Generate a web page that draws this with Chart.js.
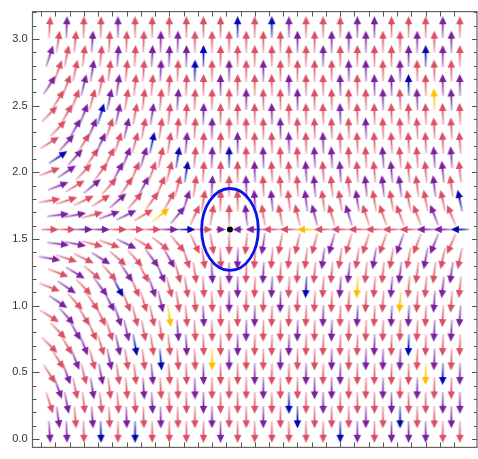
<!DOCTYPE html>
<html><head><meta charset="utf-8">
<script src="https://cdn.jsdelivr.net/npm/chart.js@4/dist/chart.umd.min.js"></script>
<style>html,body{margin:0;padding:0;background:#fff;overflow:hidden}</style>
</head><body>
<canvas id="c" width="478" height="459" style="width:478px;height:459px;display:block"></canvas>
<script>
// ---------- data ----------
const Y_ROWS = [0.054,0.162,0.271,0.379,0.487,0.596,0.704,0.812,0.921,1.029,1.138,1.246,1.354,1.463,1.571,1.679,1.787,1.896,2.004,2.112,2.221,2.329,2.437,2.546,2.654,2.762,2.871,2.979,3.087];
const X_EVEN = [0.06,0.18,0.30,0.42,0.54,0.66,0.78,0.90,1.02,1.14,1.26,1.38,1.50,1.62,1.74,1.86,1.98,2.10,2.22,2.34,2.46,2.58,2.70,2.82,2.94];
const X_ODD  = [0.12,0.24,0.36,0.48,0.60,0.72,0.84,0.96,1.08,1.20,1.32,1.44,1.56,1.68,1.80,1.92,2.04,2.16,2.28,2.40,2.52,2.64,2.76,2.88];
// arrow direction in degrees (counter-clockwise from +x), row 0 = bottom
const ANGLES = [
[-86,-88,-89,-89,-90,-90,-90,-90,-90,-90,-90,-90,-90,-90,-90,-90,-90,-90,-90,-90,-90,-90,-90,-90,-90],
[-82,-85,-86,-87,-88,-88,-89,-89,-90,-90,-90,-90,-90,-90,-90,-90,-90,-90,-90,-90,-90,-90,-90,-90],
[-72,-79,-83,-84,-86,-87,-87,-88,-89,-90,-90,-90,-90,-90,-90,-90,-90,-90,-90,-90,-90,-90,-90,-90,-90],
[-70,-78,-81,-83,-85,-86,-87,-88,-89,-90,-90,-90,-90,-90,-90,-90,-90,-91,-91,-91,-91,-91,-91,-91],
[-57,-70,-76,-79,-82,-84,-85,-86,-88,-89,-90,-90,-90,-91,-91,-91,-91,-91,-91,-91,-91,-91,-91,-91,-91],
[-58,-69,-75,-78,-81,-83,-85,-86,-88,-89,-90,-90,-91,-91,-91,-91,-91,-91,-91,-91,-92,-92,-92,-92],
[-45,-60,-69,-73,-78,-80,-82,-84,-87,-88,-90,-90,-91,-91,-91,-91,-92,-92,-92,-92,-92,-92,-92,-92,-92],
[-46,-60,-67,-72,-77,-79,-82,-85,-87,-89,-90,-91,-91,-91,-92,-92,-92,-92,-92,-92,-92,-93,-93,-93],
[-32,-48,-59,-65,-72,-75,-78,-81,-85,-87,-89,-91,-91,-92,-92,-92,-92,-92,-93,-93,-93,-93,-93,-93,-94],
[-34,-48,-56,-63,-69,-73,-77,-81,-85,-88,-90,-91,-92,-92,-93,-93,-93,-93,-93,-94,-94,-94,-94,-94],
[-21,-34,-46,-53,-62,-67,-71,-75,-81,-86,-89,-91,-92,-93,-93,-93,-94,-94,-94,-95,-95,-95,-95,-96,-96],
[-21,-31,-40,-48,-56,-62,-67,-75,-82,-87,-90,-92,-93,-94,-94,-95,-95,-96,-96,-96,-97,-97,-97,-98],
[-10,-18,-26,-32,-41,-48,-54,-61,-72,-81,-88,-92,-94,-95,-96,-97,-98,-99,-99,-100,-100,-101,-101,-102,-102],
[-7,-11,-15,-20,-26,-31,-38,-50,-65,-80,-90,-96,-99,-101,-103,-105,-106,-107,-108,-109,-110,-111,-112,-113],
[0,0,0,0,0,0,0,0,0,0,0,180,180,180,180,180,180,180,180,180,180,180,180,180,180],
[7,11,15,20,26,31,38,50,65,80,90,96,99,101,103,105,106,107,108,109,110,111,112,113],
[10,18,26,32,41,48,54,61,72,81,88,92,94,95,96,97,98,99,99,100,100,101,101,102,102],
[21,31,40,48,56,62,67,75,82,87,90,92,93,94,94,95,95,96,96,96,97,97,97,98],
[21,34,46,53,62,67,71,75,81,86,89,91,92,93,93,93,94,94,94,95,95,95,95,96,96],
[34,48,56,63,69,73,77,81,85,88,90,91,92,92,93,93,93,93,93,94,94,94,94,94],
[32,48,59,65,72,75,78,81,85,87,89,91,91,92,92,92,92,92,93,93,93,93,93,93,94],
[46,60,67,72,77,79,82,85,87,89,90,91,91,91,92,92,92,92,92,92,92,93,93,93],
[45,60,69,73,78,80,82,84,87,88,90,90,91,91,91,91,92,92,92,92,92,92,92,92,92],
[58,69,75,78,81,83,85,86,88,89,90,90,91,91,91,91,91,91,91,91,92,92,92,92],
[57,70,76,79,82,84,85,86,88,89,90,90,90,91,91,91,91,91,91,91,91,91,91,91,91],
[70,78,81,83,85,86,87,88,89,90,90,90,90,90,90,90,90,91,91,91,91,91,91,91],
[72,79,83,84,86,87,87,88,89,90,90,90,90,90,90,90,90,90,90,90,90,90,90,90,90],
[82,85,86,87,88,88,89,89,90,90,90,90,90,90,90,90,90,90,90,90,90,90,90,90],
[86,88,89,89,90,90,90,90,90,90,90,90,90,90,90,90,90,90,90,90,90,90,90,90,90]
];
// arrow colours: R red, P purple, B blue, Y yellow (row 0 = bottom)
const COLORS = [
"PPRBRBRRRRPRRRRRRBPRPPPRR",
"PRPRPRPRRPRRPRBRRRPRBRRP",
"RPRRRRPRRPRRRRBRPRRRPRRPP",
"PRPRRPRRPRRRPRRPPRRPRPRR",
"RPRPRRPRRPRRPRRPRPRRRRYBP",
"RPRPRRBRRYPRRPRRPRPPPRPR",
"RRPRPBRRPRRPRRPRRRRPRBRRR",
"RPRRPRRPRRRPRRPRPRRRRRPP",
"RPRRPRRYRPRRPRRRPRPRPPRRP",
"PRRPRRPRRRPRRPRRRRRRYRPR",
"RPRPBRPRRRRPRPRBRPYRPRRPR",
"RPRRPRPRRPPRPRRRRPRRPRRP",
"PRRPRRPPRRRPRRRRPRRPRRPRR",
"PPRRPRRRRRRRPRRRPRRRPRPR",
"RRPPRRRPBRPPPRRYRRRRRRPPB",
"PPRPPRYPRRRPRRRPRPRRRRPR",
"RRRRPRRRPRRRPPRPRRPRRRRRB",
"PRPRRPRRRPRPRRRPRRPPPRPR",
"RPRRPRRRBRRRPRRPRPRRPRRPR",
"BPRRPPRBRPBRPRRPPRRPRRPP",
"RPRPRRBRPRRPRRPRPRRRRRRRR",
"RPPRPRRRRPRRRPRRRRPRRRRR",
"RRPBPRPRRPRRRPRRRPRRRRRRR",
"RRRPRRRPRRRPRRPRRRRPRPYP",
"PRPRPRRRRRPRRRPRRPRPPBRPP",
"RRPRRRPRBRPRPRRRRPPRPRRR",
"PRRRPRPPPBRRRRRRPRRRRPBPR",
"RRPRRRPPRRRRRRPRPPPRRPRP",
"RPRRPRRRRRRBRBPRRRPPRRRPR"
];
const Y_TICKS = [0, 0.5, 1.0, 1.5, 2.0, 2.5, 3.0];
const Y_TICK_LABELS = ["0.0","0.5","1.0","1.5","2.0","2.5","3.0"];
const Y_MINOR = [0.1,0.2,0.3,0.4,0.6,0.7,0.8,0.9,1.1,1.2,1.3,1.4,1.6,1.7,1.8,1.9,2.1,2.2,2.3,2.4,2.6,2.7,2.8,2.9,3.1,3.2];
const X_TICKS = [0,0.1,0.2,0.3,0.4,0.5,0.6,0.7,0.8,0.9,1.0,1.1,1.2,1.3,1.4,1.5,1.6,1.7,1.8,1.9,2.0,2.1,2.2,2.3,2.4,2.5,2.6,2.7,2.8,2.9];
const FIXED_POINT = {x: 1.326, y: 1.571};
const ELLIPSE = {cx: 1.326, cy: 1.571, rx: 0.199, ry: 0.307};

// ---------- styles ----------
const PALETTE = {R:[218,80,100], P:[122,32,160], B:[6,6,176], Y:[255,190,0]};
function makeArrow(rgb, len){
  const W = len, H = 9, c = document.createElement('canvas');
  c.width = W; c.height = H;
  const g = c.getContext('2d');
  const head = 8, hw = 3.7, cy = H/2;
  const grad = g.createLinearGradient(0,0,W-head,0);
  grad.addColorStop(0,`rgba(${rgb},0.35)`);
  grad.addColorStop(1,`rgba(${rgb},1)`);
  g.strokeStyle = grad; g.lineWidth = 1.8;
  g.beginPath(); g.moveTo(0,cy); g.lineTo(W-head+1,cy); g.stroke();
  g.fillStyle = `rgb(${rgb})`;
  g.beginPath(); g.moveTo(W,cy); g.lineTo(W-head,cy-hw); g.lineTo(W-head,cy+hw); g.closePath(); g.fill();
  return c;
}
const IMG = {};
for (const k in PALETTE){
  IMG[k] = makeArrow(PALETTE[k].join(','), 22);
  IMG[k+'m'] = makeArrow(PALETTE[k].join(','), 18);
  IMG[k+'s'] = makeArrow(PALETTE[k].join(','), 10);
}

const pts = [];
for (let i = 0; i < Y_ROWS.length; i++){
  const xs = (i % 2 === 0) ? X_EVEN : X_ODD;
  for (let k = 0; k < xs.length; k++){
    let s = '';
    if (i === 14) s = (k === 10 || k === 11) ? 's' : 'm';
    pts.push({x: xs[k], y: Y_ROWS[i], a: ANGLES[i][k], c: (COLORS[i][k] || 'R') + s});
  }
}

const frame = {
  id: 'frame',
  afterDatasetsDraw(chart){
    const {ctx, chartArea: a, scales: {x, y}} = chart;
    ctx.save();
    const cx = x.getPixelForValue(ELLIPSE.cx), cy = y.getPixelForValue(ELLIPSE.cy);
    const rx = Math.abs(x.getPixelForValue(ELLIPSE.cx + ELLIPSE.rx) - cx);
    const ry = Math.abs(y.getPixelForValue(ELLIPSE.cy + ELLIPSE.ry) - cy);
    ctx.strokeStyle = '#0a14e6'; ctx.lineWidth = 2.8;
    ctx.beginPath(); ctx.ellipse(cx, cy, rx, ry, 0, 0, Math.PI*2); ctx.stroke();
    ctx.strokeStyle = '#666'; ctx.lineWidth = 1.2;
    ctx.strokeRect(a.left, a.top, a.right - a.left, a.bottom - a.top);
    ctx.strokeStyle = '#555'; ctx.lineWidth = 1;
    ctx.beginPath();
    for (const v of Y_TICKS){ const p = Math.round(y.getPixelForValue(v))+0.5;
      ctx.moveTo(a.left, p); ctx.lineTo(a.left+7, p); ctx.moveTo(a.right, p); ctx.lineTo(a.right-5, p); }
    for (const v of Y_MINOR){ const p = Math.round(y.getPixelForValue(v))+0.5;
      ctx.moveTo(a.left, p); ctx.lineTo(a.left+4, p); ctx.moveTo(a.right, p); ctx.lineTo(a.right-3, p); }
    for (const v of X_TICKS){ const p = Math.round(x.getPixelForValue(v))+0.5;
      ctx.moveTo(p, a.bottom); ctx.lineTo(p, a.bottom-5); ctx.moveTo(p, a.top); ctx.lineTo(p, a.top+5); }
    ctx.stroke();
    ctx.restore();
  }
};

new Chart(document.getElementById('c'), {
  type: 'scatter',
  data: { datasets: [
    { data: pts, pointStyle: c => IMG[c.raw.c], rotation: c => -c.raw.a, pointRadius: 11, hoverRadius: 11 },
    { data: [FIXED_POINT], pointStyle: 'circle', pointRadius: 3, backgroundColor: '#000', borderColor: '#000', borderWidth: 0 }
  ]},
  options: {
    responsive: false, animation: false, events: [],
    layout: { autoPadding: false, padding: { left: 0, right: 1, top: 7, bottom: 3 } },
    plugins: { legend: { display: false }, tooltip: { enabled: false } },
    scales: {
      x: { type: 'linear', min: -0.06, max: 3.06, display: false },
      y: { type: 'linear', min: -0.0628, max: 3.2044,
           afterBuildTicks: s => { s.ticks = Y_TICKS.map(v => ({value: v})); },
           afterFit: s => { s.width = 32.5; },
           ticks: { callback: (v, i) => Y_TICK_LABELS[i], color: '#333', padding: 5,
                    font: { family: 'Liberation Sans, Arial, sans-serif', size: 11 } },
           grid: { display: false, drawTicks: false }, border: { display: false } }
    }
  },
  plugins: [frame]
});
</script>
</body></html>
